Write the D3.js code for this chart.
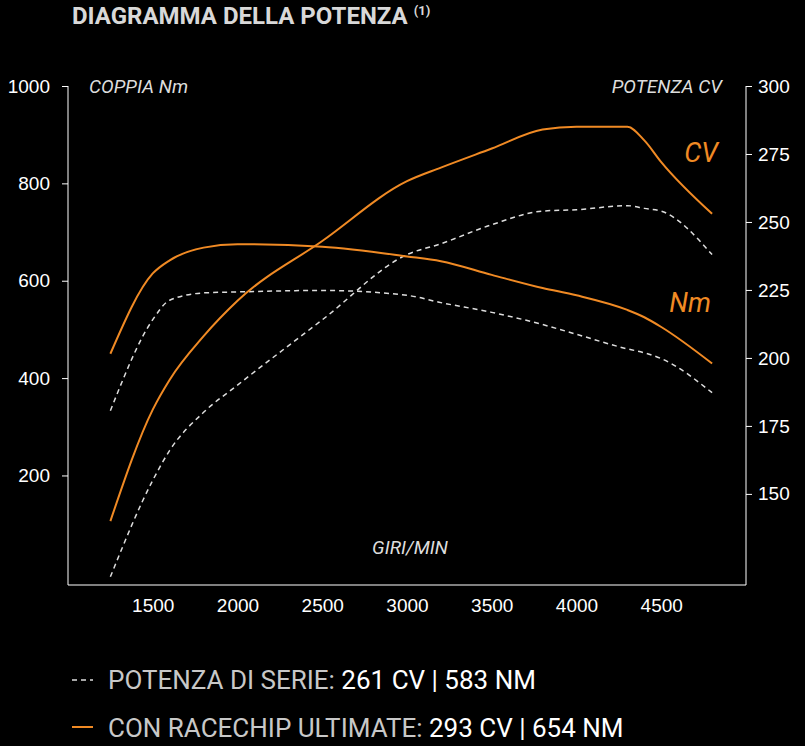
<!DOCTYPE html><html><head><meta charset="utf-8"><script src="https://cdn.jsdelivr.net/npm/d3@7"></script>
<style>body{margin:0;background:#000}svg{font-family:Roboto,sans-serif}</style></head><body>
<svg id="c" width="805" height="746"></svg>
<script>
const xTicks=[1500,2000,2500,3000,3500,4000,4500];
const leftTicks=[200,400,600,800,1000];
const rightTicks=[150,175,200,225,250,275,300];
const rpm=[1250,1500,1600,1800,2000,2500,3000,3200,3500,3800,4000,4300,4400,4500,4800];
const tuneNm=[450,615,642,668,675,670,650,640,612,585,570,540,525,505,430];
const tuneCV=[140,181,192,208,221,243,265,270,277,284,285,285,280,272,253];
const stockNm=[333,520,560,575,577,580,570,555,535,510,490,460,452,440,370];
const stockCV=[119.5,155,166,180,190,214,238,242,249,254,254.5,256,255,254,238];
const orange="#f08a24";
const svg=d3.select("#c");
const x=d3.scaleLinear().domain([1000,5000]).range([68,746]);
const yL=d3.scaleLinear().domain([-25,1000]).range([585,86]);
const yR=d3.scaleLinear().domain([116.5,300]).range([585,86]);
svg.append("text").attr("x",72).attr("y",24).attr("fill","#d8d8d8").attr("font-size",24).attr("font-weight","bold")
 .text("DIAGRAMMA DELLA POTENZA").append("tspan").attr("font-size",13).attr("dy",-9).attr("dx",6).text("(1)");
const ax=g=>{g.selectAll("path,line").attr("stroke","#fff");g.selectAll("text").attr("fill","#fff").attr("font-size",19);};
svg.append("g").attr("transform","translate(0,585)").call(d3.axisBottom(x).tickValues(xTicks).tickSize(0).tickPadding(14).tickFormat(d3.format("d"))).call(ax).select(".domain").attr("d","M68,0H746");
svg.append("g").attr("transform","translate(68,0)").call(d3.axisLeft(yL).tickValues(leftTicks).tickSize(6).tickPadding(12).tickFormat(d3.format("d"))).call(ax).select(".domain").attr("d","M0,86V585");
svg.append("g").attr("transform","translate(746,0)").call(d3.axisRight(yR).tickValues(rightTicks).tickSize(6).tickPadding(6)).call(ax).select(".domain").attr("d","M0,86V585");
const lab=(t,xx,yy,anchor,col,fs)=>svg.append("text").attr("x",xx).attr("y",yy).attr("text-anchor",anchor).attr("fill",col).attr("font-size",fs).attr("font-style","italic").text(t);
lab("COPPIA Nm",89,93,"start","#ddd",19);lab("POTENZA CV",722,93,"end","#ddd",19);lab("GIRI/MIN",410,554,"middle","#ddd",19);
lab("CV",718,162,"end",orange,27);lab("Nm",711,312,"end",orange,27);
const line=(ys,yS,col,dash)=>svg.append("path").datum(rpm.map((r,i)=>[r,ys[i]])).attr("fill","none").attr("stroke",col).attr("stroke-width",dash?1.5:2)
 .attr("stroke-dasharray",dash?"5,4":null).attr("d",d3.line().x(d=>x(d[0])).y(d=>yS(d[1])).curve(d3.curveMonotoneX));
line(stockNm,yL,"#ddd",true);line(stockCV,yR,"#ddd",true);line(tuneNm,yL,orange,false);line(tuneCV,yR,orange,false);
svg.append("line").attr("x1",72).attr("x2",93).attr("y1",680).attr("y2",680).attr("stroke","#ddd").attr("stroke-width",1.5).attr("stroke-dasharray","5,4");
svg.append("line").attr("x1",72).attr("x2",93).attr("y1",727).attr("y2",727).attr("stroke",orange).attr("stroke-width",2);
const leg=(a,b,yy)=>{const t=svg.append("text").attr("x",108).attr("y",yy).attr("font-size",26).attr("fill","#c8c8c8");t.append("tspan").text(a);t.append("tspan").attr("fill","#fff").text(b);};
leg("POTENZA DI SERIE: ","261 CV | 583 NM",689);leg("CON RACECHIP ULTIMATE: ","293 CV | 654 NM",737);
</script></body></html>
